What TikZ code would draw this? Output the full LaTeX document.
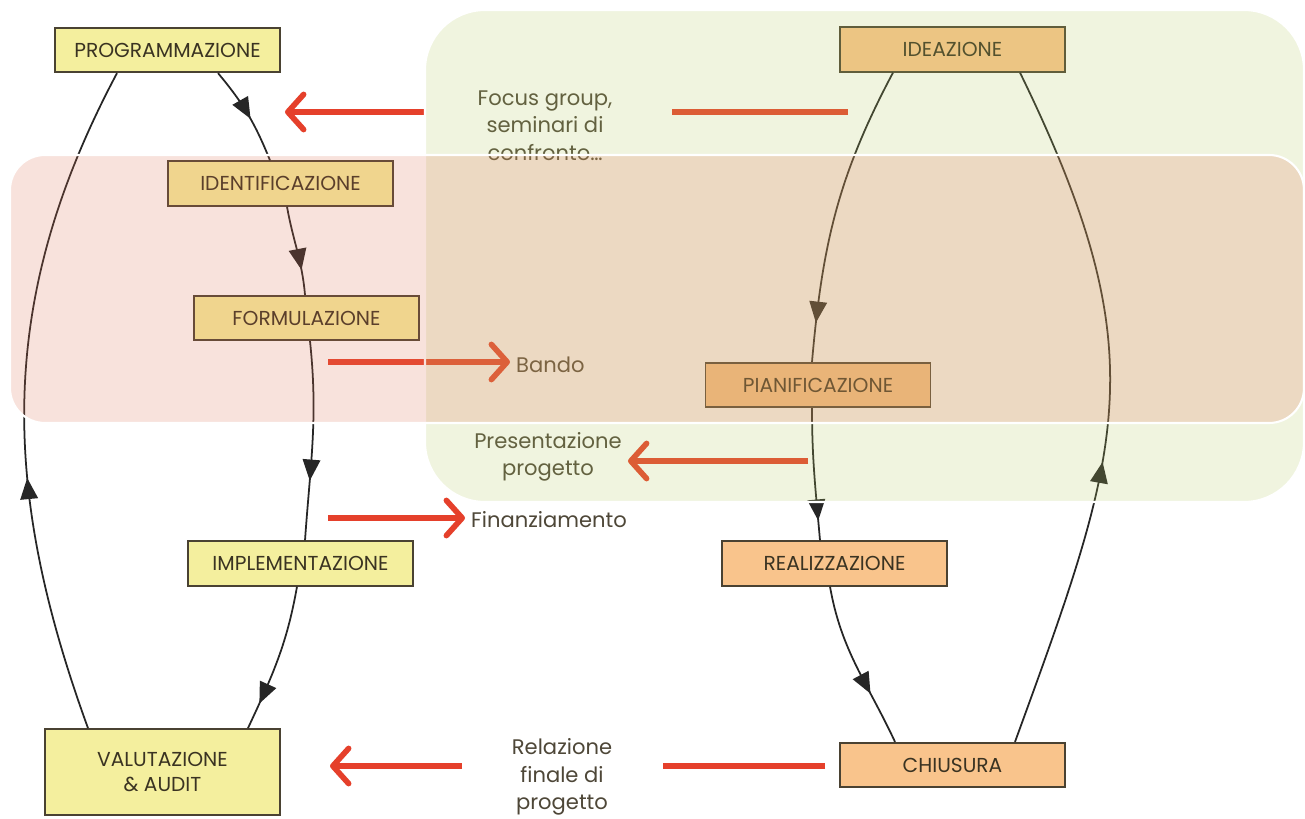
\documentclass[tikz,border=0pt]{standalone}
\usepackage{fontspec}
\setmainfont{Poppins}
\usepackage{tikz}
\usetikzlibrary{arrows.meta, positioning, calc, decorations.markings}
\usepackage{xcolor}
\definecolor{ink}{HTML}{3A3322}
\definecolor{edgec}{HTML}{4A4232}
\definecolor{phasey}{HTML}{F4EF9E}
\definecolor{phaseo}{HTML}{F9C48C}
\definecolor{flowred}{HTML}{E5402B}
\definecolor{bandgreen}{HTML}{B8CC60}
\definecolor{bandpink}{HTML}{E07050}

\begin{document}
\begin{tikzpicture}[
    ph/.style={draw=edgec, line width=1pt, rectangle, minimum width=4.5cm, minimum height=0.89cm, inner sep=0, font=\fontsize{11.5}{14.5}\selectfont, text=ink, align=center},
    py/.style={ph, fill=phasey},
    po/.style={ph, fill=phaseo},
    nt/.style={font=\fontsize{12}{15.6}\selectfont, text=ink!90, align=center},
    cyc/.style={draw=black!85, line width=1pt, postaction={decorate},
        decoration={markings, mark=at position #1 with {\arrow{Triangle[length=12pt,width=10pt]}}}},
    rline/.style={draw=flowred, line width=3.2pt},
    rarrow/.style={rline, -{Straight Barb[length=9pt,width=20pt,round]}},
    band/.style={draw=white, line width=1.2pt, fill opacity=0.2}]
\useasboundingbox (0,0) rectangle (26.1,16.36);
\fill[white] (0,0) rectangle (26.1,16.36);

% phases
\node[py] (prog) at (3.35,15.36) {PROGRAMMAZIONE};
\node[py] (iden) at (5.61,12.69) {IDENTIFICAZIONE};
\node[py] (form) at (6.13,10.00) {FORMULAZIONE};
\node[py] (impl) at (6.01,5.09) {IMPLEMENTAZIONE};
\node[py, minimum width=4.7cm, minimum height=1.72cm] (valu) at (3.25,0.92) {VALUTAZIONE\\\& AUDIT};
\node[po] (idea) at (19.05,15.37) {IDEAZIONE};
\node[po] (pian) at (16.36,8.66) {PIANIFICAZIONE};
\node[po] (real) at (16.69,5.09) {REALIZZAZIONE};
\node[po] (chiu) at (19.05,1.06) {CHIUSURA};

% notes
\node[nt] (focus) at (10.9,13.85) {Focus group,\\seminari di\\confronto\dots};
\node[nt, anchor=west] (bando) at (10.2,9.06) {Bando};
\node[nt] (pres) at (10.96,7.22) {Presentazione\\progetto};
\node[nt, anchor=west] (fina) at (9.3,5.96) {Finanziamento};
\node[nt] (rela) at (11.24,0.82) {Relazione\\finale di\\progetto};

% cycle of the programme
\draw[cyc=0.55] ([xshift=1.01cm]prog.south) to[out=-50, in=112] ([xshift=-0.21cm]iden.north);
\draw[cyc=0.72] ([xshift=0.13cm]iden.south) to[out=-80, in=95] ([xshift=-0.03cm]form.north);
\draw[cyc=0.7] ([xshift=0.07cm]form.south) to[out=-84, in=86] ([xshift=0.09cm]impl.north);
\draw[cyc=0.82] ([xshift=-0.07cm]impl.south) to[out=-100, in=65] ([xshift=1.71cm]valu.north);
\draw[cyc=0.38] ([xshift=-1.49cm]valu.north) to[out=110, in=-118] ([xshift=-1.01cm]prog.south);

% cycle of the project
\draw[cyc=0.87] ([xshift=-1.19cm]idea.south) to[out=-118, in=85] ([xshift=-0.12cm]pian.north);
\draw[cyc=0.85] ([xshift=-0.12cm]pian.south) to[out=-90, in=95] ([xshift=-0.29cm]real.north);
\draw[cyc=0.68] ([xshift=-0.09cm]real.south) to[out=-80, in=115] ([xshift=-1.15cm]chiu.north);
\draw[cyc=0.42] ([xshift=1.25cm]chiu.north) to[out=70, in=-64, looseness=1.2] ([xshift=1.35cm]idea.south);

% exchanges
\coordinate (fg-in) at (16.96,14.12);
\coordinate (fg-out) at (8.5,14.12);
\coordinate (fg-end) at (5.7,14.12);
\draw[rline] (fg-in) -- (fg-in -| 13.44,0);
\draw[rarrow] (fg-out) -- (fg-end);
\coordinate (bd) at (6.56,9.12);
\draw[rarrow] (bd) -- (bd -| bando.west);
\coordinate (pp) at (16.16,7.14);
\draw[rarrow] (pp) -- (pp -| pres.east);
\coordinate (fn) at (6.56,6.0);
\draw[rarrow] (fn) -- (fn -| fina.west);
\coordinate (rl-in) at (16.5,1.04);
\coordinate (rl-out) at (9.24,1.04);
\coordinate (rl-end) at (6.6,1.04);
\draw[rline] (rl-in) -- (rl-in -| 13.26,0);
\draw[rarrow] (rl-out) -- (rl-end);

% bands
\path[band, fill=bandgreen, rounded corners=1.2cm] (8.5,6.32) rectangle (26.08,16.16);
\path[band, fill=bandpink, rounded corners=0.7cm] (0.2,7.9) rectangle (26.08,13.26);
\end{tikzpicture}
\end{document}
